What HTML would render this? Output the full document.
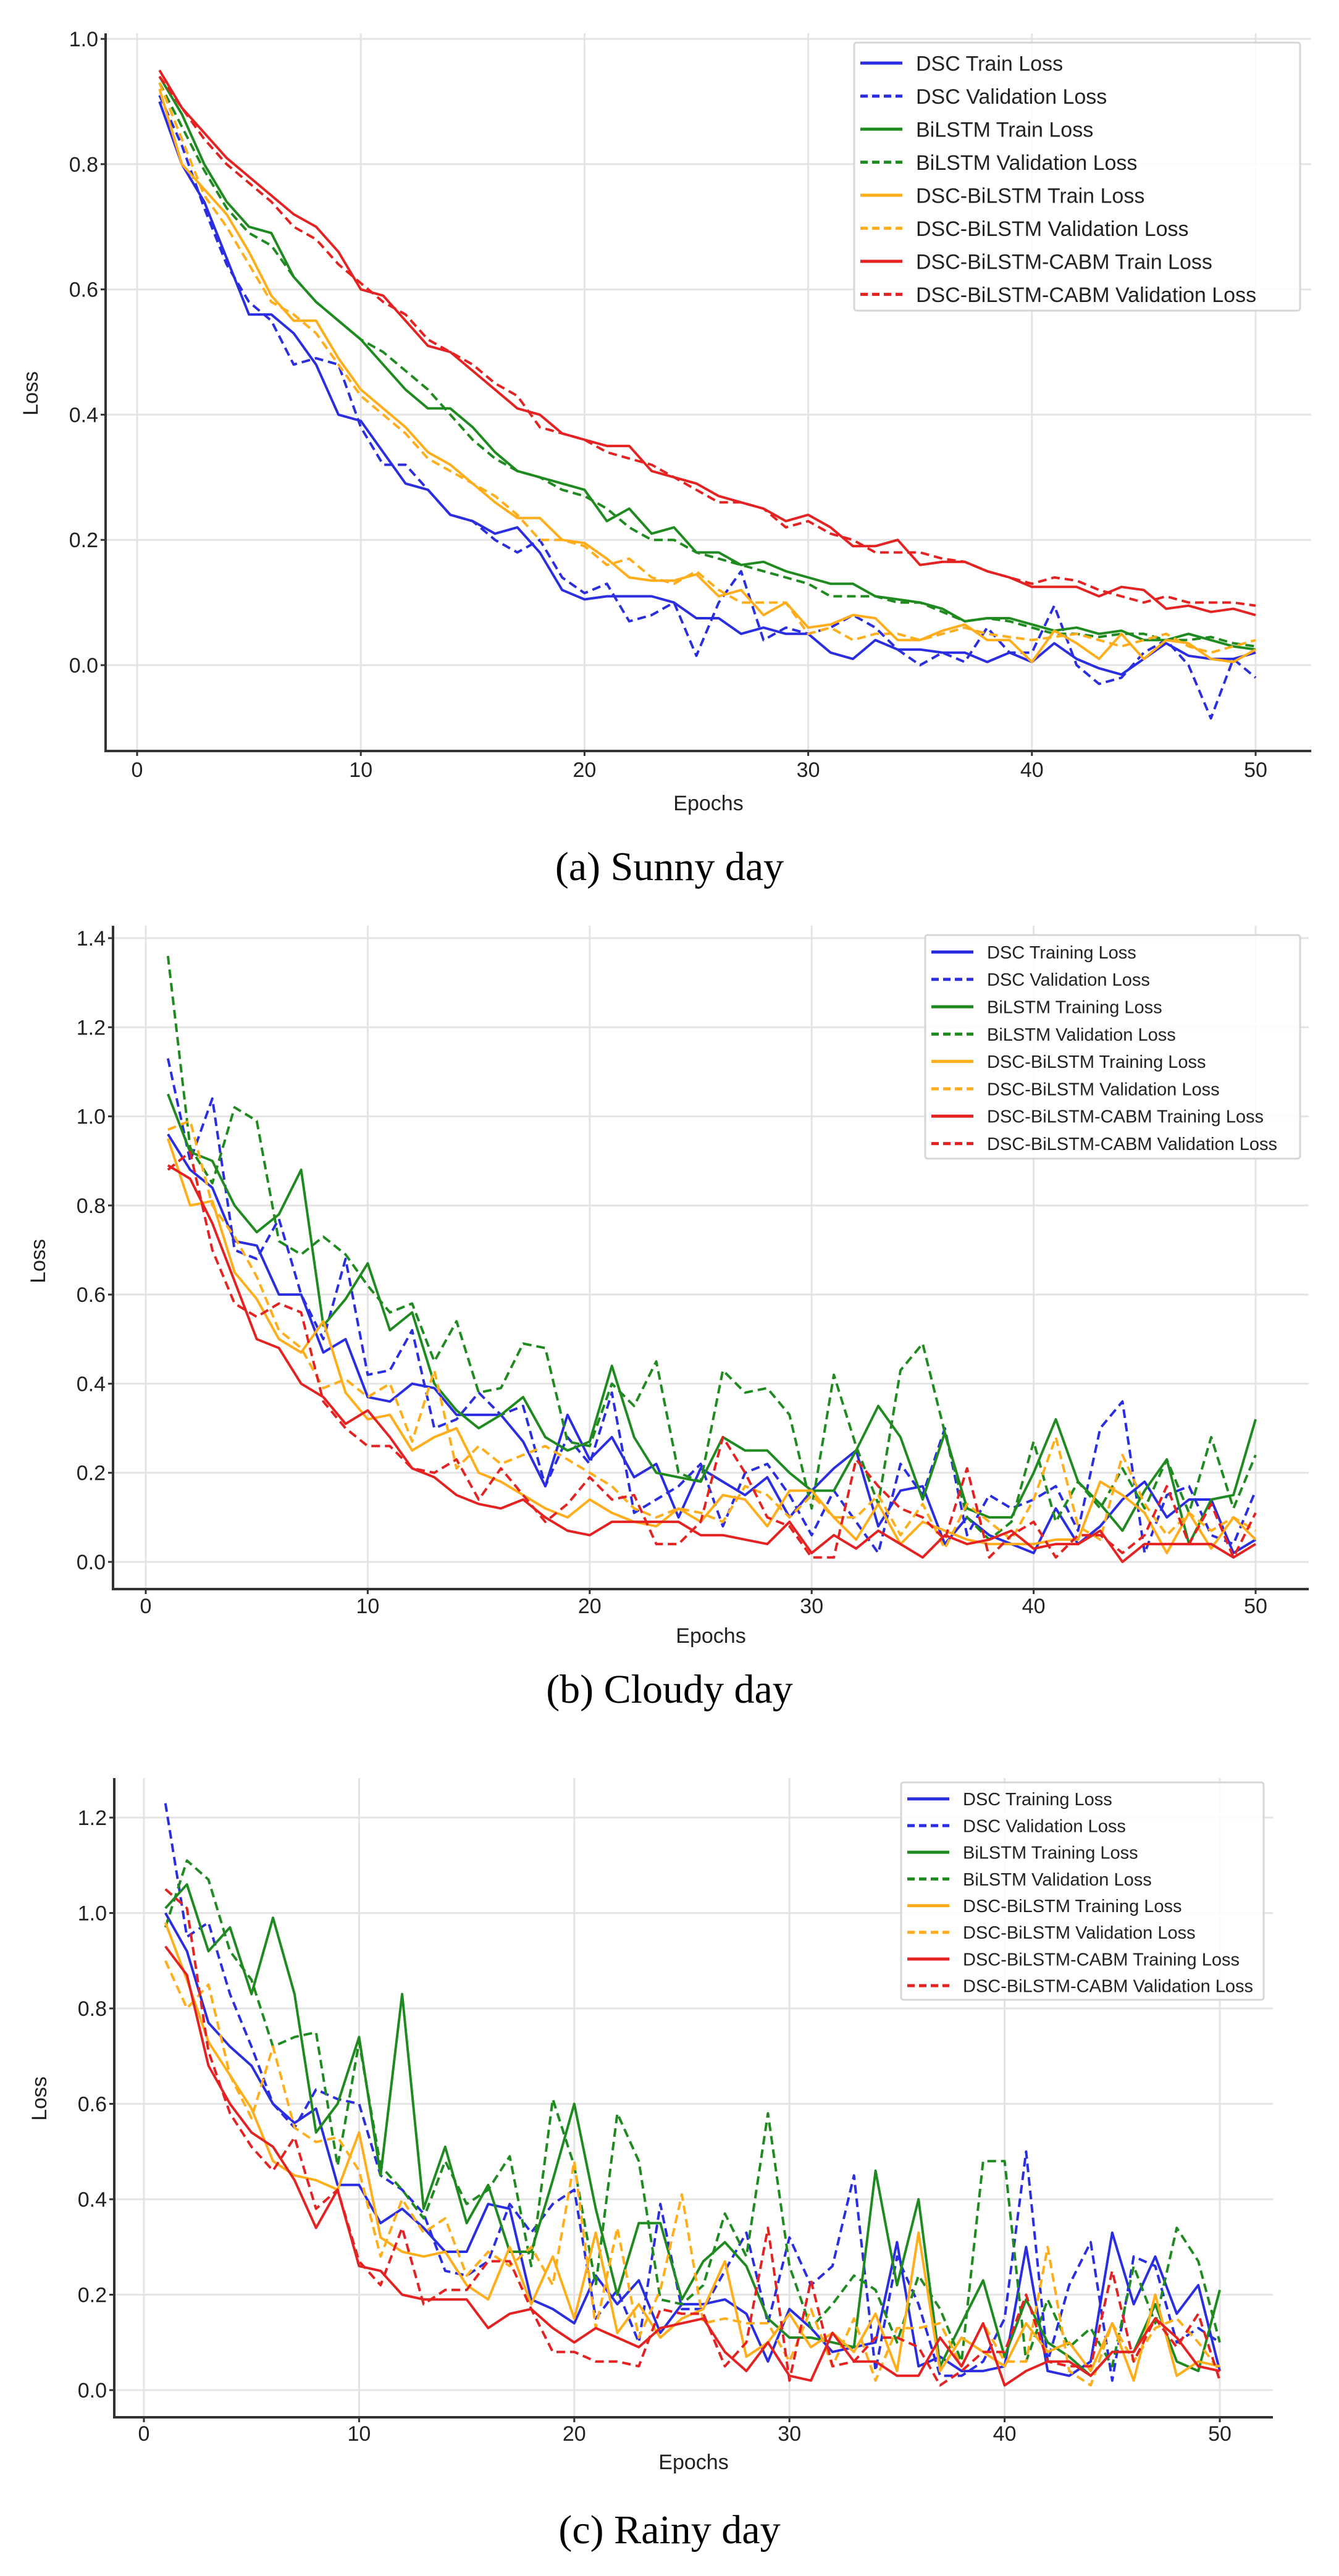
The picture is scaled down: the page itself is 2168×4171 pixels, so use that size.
<!DOCTYPE html>
<html><head><meta charset="utf-8"><style>
html,body{margin:0;padding:0;background:#fff;}
svg{display:block;}
text{font-family:"Liberation Sans",sans-serif;fill:#222;}
.cap{font-family:"Liberation Serif",serif;fill:#000;}
</style></head><body>
<svg id="fig" width="2168" height="4171" viewBox="0 0 2168 4171" xmlns="http://www.w3.org/2000/svg"></svg>
<script>
const epochs = Array.from({length:50},(_,i)=>i+1);
const seriesNames = ["DSC","BiLSTM","DSC-BiLSTM","DSC-BiLSTM-CABM"];
const seriesColors = ["#2a2ee0","#1f8a1f","#ffad1a","#e52222"];

// (a) Sunny day
const sunnyDscTrain=[0.90,0.80,0.74,0.65,0.56,0.56,0.53,0.48,0.40,0.39,0.34,0.29,0.28,0.24,0.23,0.21,0.22,0.18,0.12,0.105,0.11,0.11,0.11,0.10,0.075,0.075,0.05,0.06,0.05,0.05,0.02,0.01,0.04,0.025,0.025,0.02,0.02,0.005,0.02,0.005,0.035,0.01,-0.005,-0.015,0.01,0.035,0.015,0.01,0.01,0.02];
const sunnyDscVal=[0.91,0.83,0.73,0.64,0.58,0.55,0.48,0.49,0.48,0.38,0.32,0.32,0.28,0.24,0.23,0.20,0.18,0.20,0.14,0.115,0.13,0.07,0.08,0.10,0.015,0.10,0.15,0.04,0.06,0.05,0.06,0.08,0.06,0.025,0.00,0.02,0.005,0.06,0.02,0.02,0.095,0.00,-0.03,-0.02,0.02,0.04,0.00,-0.085,0.01,-0.02];
const sunnyBiTrain=[0.94,0.88,0.80,0.74,0.70,0.69,0.62,0.58,0.55,0.52,0.48,0.44,0.41,0.41,0.38,0.34,0.31,0.30,0.29,0.28,0.23,0.25,0.21,0.22,0.18,0.18,0.16,0.165,0.15,0.14,0.13,0.13,0.11,0.105,0.10,0.09,0.07,0.075,0.075,0.065,0.055,0.06,0.05,0.055,0.04,0.04,0.05,0.04,0.03,0.025];
const sunnyBiVal=[0.93,0.86,0.79,0.73,0.69,0.67,0.62,0.58,0.55,0.52,0.50,0.47,0.44,0.40,0.36,0.33,0.31,0.30,0.28,0.27,0.25,0.22,0.20,0.20,0.18,0.17,0.16,0.15,0.14,0.13,0.11,0.11,0.11,0.10,0.10,0.085,0.07,0.075,0.07,0.06,0.05,0.05,0.045,0.05,0.05,0.04,0.04,0.045,0.035,0.03];
const sunnyDbTrain=[0.92,0.80,0.76,0.72,0.66,0.59,0.55,0.55,0.49,0.44,0.41,0.38,0.34,0.32,0.29,0.26,0.235,0.235,0.20,0.195,0.17,0.14,0.135,0.135,0.145,0.11,0.12,0.08,0.10,0.06,0.065,0.08,0.075,0.04,0.04,0.055,0.065,0.04,0.04,0.005,0.055,0.035,0.01,0.05,0.01,0.04,0.035,0.01,0.005,0.025];
const sunnyDbVal=[0.93,0.84,0.75,0.70,0.64,0.58,0.56,0.53,0.48,0.43,0.40,0.37,0.33,0.31,0.29,0.27,0.24,0.20,0.20,0.19,0.16,0.17,0.14,0.13,0.15,0.12,0.10,0.10,0.10,0.05,0.06,0.04,0.05,0.05,0.04,0.05,0.06,0.05,0.045,0.04,0.045,0.05,0.04,0.03,0.04,0.05,0.03,0.02,0.03,0.04];
const sunnyCabmTrain=[0.95,0.89,0.85,0.81,0.78,0.75,0.72,0.70,0.66,0.60,0.59,0.55,0.51,0.50,0.47,0.44,0.41,0.40,0.37,0.36,0.35,0.35,0.31,0.30,0.29,0.27,0.26,0.25,0.23,0.24,0.22,0.19,0.19,0.20,0.16,0.165,0.165,0.15,0.14,0.125,0.125,0.125,0.11,0.125,0.12,0.09,0.095,0.085,0.09,0.08];
const sunnyCabmVal=[0.94,0.89,0.84,0.80,0.77,0.74,0.70,0.68,0.64,0.61,0.58,0.56,0.52,0.50,0.48,0.45,0.43,0.38,0.37,0.36,0.34,0.33,0.32,0.30,0.28,0.26,0.26,0.25,0.22,0.23,0.21,0.20,0.18,0.18,0.18,0.17,0.165,0.15,0.14,0.13,0.14,0.135,0.12,0.11,0.10,0.11,0.10,0.10,0.10,0.095];

// (b) Cloudy day
const cloudyDscTrain=[0.96,0.88,0.84,0.72,0.71,0.60,0.60,0.47,0.50,0.37,0.36,0.40,0.39,0.33,0.33,0.33,0.27,0.17,0.33,0.23,0.28,0.19,0.22,0.10,0.21,0.18,0.15,0.19,0.10,0.16,0.21,0.25,0.08,0.16,0.17,0.04,0.10,0.06,0.04,0.02,0.12,0.04,0.08,0.14,0.18,0.10,0.14,0.14,0.02,0.05];
const cloudyDscVal=[1.13,0.90,1.04,0.70,0.68,0.77,0.60,0.50,0.68,0.42,0.43,0.52,0.30,0.32,0.38,0.33,0.35,0.17,0.28,0.22,0.38,0.11,0.14,0.17,0.22,0.08,0.20,0.22,0.15,0.06,0.16,0.09,0.02,0.22,0.15,0.30,0.06,0.15,0.12,0.14,0.17,0.07,0.30,0.36,0.02,0.15,0.17,0.06,0.04,0.16];
const cloudyBiTrain=[1.05,0.92,0.90,0.80,0.74,0.78,0.88,0.53,0.59,0.67,0.52,0.56,0.40,0.34,0.30,0.33,0.37,0.28,0.25,0.27,0.44,0.28,0.20,0.19,0.18,0.28,0.25,0.25,0.20,0.16,0.16,0.25,0.35,0.28,0.14,0.29,0.12,0.10,0.10,0.20,0.32,0.18,0.13,0.07,0.16,0.23,0.04,0.14,0.15,0.32];
const cloudyBiVal=[1.36,0.93,0.85,1.02,0.99,0.72,0.69,0.73,0.69,0.62,0.56,0.58,0.45,0.54,0.38,0.39,0.49,0.48,0.27,0.26,0.40,0.35,0.45,0.20,0.18,0.43,0.38,0.39,0.33,0.12,0.42,0.26,0.13,0.43,0.49,0.29,0.10,0.05,0.09,0.27,0.09,0.18,0.12,0.21,0.12,0.23,0.11,0.28,0.12,0.24];
const cloudyDbTrain=[0.95,0.80,0.81,0.65,0.59,0.50,0.47,0.54,0.38,0.32,0.33,0.25,0.28,0.30,0.20,0.18,0.15,0.12,0.10,0.14,0.11,0.09,0.08,0.12,0.09,0.15,0.14,0.08,0.16,0.16,0.10,0.05,0.13,0.04,0.09,0.07,0.05,0.04,0.04,0.04,0.05,0.05,0.18,0.15,0.11,0.02,0.11,0.03,0.10,0.05];
const cloudyDbVal=[0.97,0.99,0.80,0.73,0.64,0.52,0.48,0.39,0.41,0.37,0.40,0.27,0.43,0.21,0.26,0.22,0.24,0.26,0.23,0.20,0.17,0.12,0.10,0.12,0.11,0.09,0.17,0.15,0.10,0.15,0.10,0.10,0.15,0.06,0.13,0.03,0.13,0.09,0.05,0.14,0.28,0.08,0.05,0.24,0.13,0.06,0.11,0.07,0.10,0.07];
const cloudyCabmTrain=[0.89,0.86,0.76,0.63,0.50,0.48,0.40,0.37,0.31,0.34,0.28,0.21,0.19,0.15,0.13,0.12,0.14,0.10,0.07,0.06,0.09,0.09,0.09,0.09,0.06,0.06,0.05,0.04,0.09,0.02,0.06,0.03,0.07,0.04,0.01,0.06,0.04,0.05,0.07,0.03,0.04,0.04,0.07,0.00,0.04,0.04,0.04,0.04,0.01,0.04];
const cloudyCabmVal=[0.88,0.92,0.70,0.58,0.55,0.58,0.56,0.36,0.30,0.26,0.26,0.21,0.20,0.23,0.14,0.21,0.15,0.09,0.13,0.19,0.14,0.15,0.04,0.04,0.09,0.28,0.20,0.10,0.08,0.01,0.01,0.23,0.17,0.12,0.10,0.05,0.21,0.01,0.06,0.09,0.01,0.06,0.06,0.02,0.06,0.17,0.04,0.13,0.01,0.11];

// (c) Rainy day
const rainyDscTrain=[1.00,0.92,0.77,0.72,0.68,0.60,0.56,0.59,0.43,0.43,0.35,0.38,0.34,0.29,0.29,0.39,0.38,0.19,0.17,0.14,0.24,0.18,0.23,0.12,0.18,0.18,0.19,0.16,0.06,0.17,0.13,0.08,0.09,0.10,0.31,0.05,0.07,0.04,0.04,0.05,0.30,0.04,0.03,0.06,0.33,0.18,0.28,0.16,0.22,0.04];
const rainyDscVal=[1.23,0.95,0.98,0.83,0.72,0.60,0.55,0.63,0.61,0.60,0.45,0.42,0.37,0.25,0.24,0.27,0.39,0.33,0.39,0.42,0.15,0.21,0.10,0.39,0.17,0.17,0.25,0.33,0.14,0.32,0.22,0.26,0.45,0.04,0.28,0.18,0.03,0.03,0.06,0.15,0.50,0.06,0.22,0.31,0.02,0.28,0.26,0.10,0.13,0.10];
const rainyBiTrain=[1.01,1.06,0.92,0.97,0.83,0.99,0.83,0.54,0.60,0.74,0.45,0.83,0.38,0.51,0.35,0.43,0.29,0.29,0.44,0.60,0.38,0.20,0.35,0.35,0.19,0.27,0.31,0.26,0.15,0.11,0.11,0.10,0.09,0.46,0.22,0.40,0.05,0.14,0.23,0.07,0.19,0.10,0.07,0.03,0.08,0.08,0.18,0.06,0.04,0.21];
const rainyBiVal=[0.97,1.11,1.07,0.92,0.86,0.72,0.74,0.75,0.47,0.73,0.47,0.42,0.36,0.48,0.39,0.42,0.49,0.26,0.61,0.47,0.22,0.58,0.48,0.19,0.18,0.22,0.37,0.28,0.58,0.26,0.13,0.18,0.24,0.21,0.10,0.24,0.17,0.06,0.48,0.48,0.06,0.19,0.09,0.13,0.05,0.26,0.14,0.34,0.27,0.10];
const rainyDbTrain=[0.98,0.86,0.73,0.66,0.59,0.48,0.45,0.44,0.42,0.54,0.32,0.29,0.28,0.29,0.22,0.19,0.30,0.18,0.28,0.15,0.33,0.12,0.18,0.11,0.15,0.17,0.27,0.07,0.10,0.16,0.09,0.12,0.08,0.16,0.04,0.33,0.04,0.11,0.08,0.05,0.14,0.08,0.10,0.04,0.14,0.02,0.20,0.03,0.06,0.05];
const rainyDbVal=[0.90,0.80,0.85,0.66,0.57,0.72,0.55,0.52,0.53,0.46,0.28,0.40,0.33,0.36,0.24,0.29,0.26,0.30,0.22,0.48,0.13,0.34,0.11,0.21,0.41,0.14,0.15,0.14,0.14,0.06,0.17,0.05,0.15,0.02,0.13,0.13,0.14,0.05,0.14,0.06,0.06,0.30,0.04,0.01,0.14,0.06,0.13,0.15,0.10,0.04];
const rainyCabmTrain=[0.93,0.87,0.68,0.60,0.54,0.51,0.44,0.34,0.42,0.26,0.25,0.20,0.19,0.19,0.19,0.13,0.16,0.17,0.13,0.10,0.13,0.11,0.09,0.13,0.14,0.15,0.08,0.04,0.10,0.03,0.02,0.12,0.06,0.06,0.03,0.03,0.11,0.05,0.14,0.01,0.04,0.06,0.06,0.03,0.08,0.08,0.15,0.11,0.05,0.04];
const rainyCabmVal=[1.05,1.01,0.71,0.58,0.51,0.46,0.53,0.38,0.42,0.27,0.22,0.34,0.18,0.21,0.21,0.27,0.27,0.17,0.08,0.08,0.06,0.06,0.05,0.17,0.16,0.16,0.05,0.10,0.34,0.02,0.23,0.05,0.06,0.11,0.11,0.09,0.01,0.04,0.08,0.08,0.20,0.06,0.05,0.05,0.25,0.06,0.15,0.09,0.16,0.02];

const xTicks=[0,10,20,30,40,50];
const yTicksA=[0.0,0.2,0.4,0.6,0.8,1.0];
const yTicksB=[0.0,0.2,0.4,0.6,0.8,1.0,1.2,1.4];
const yTicksC=[0.0,0.2,0.4,0.6,0.8,1.0,1.2];

const NS="http://www.w3.org/2000/svg";
const svg=document.getElementById('fig');
function el(tag,attrs,parent){const e=document.createElementNS(NS,tag);for(const k in attrs)e.setAttribute(k,attrs[k]);(parent||svg).appendChild(e);return e;}

const panels=[
 {key:"sunny",caption:"(a) Sunny day",capY:1425,spineL:171,spineR:2123,spineT:54,spineB:1216,x0:222,x50:2033,yv0:0,yp0:1077,yv1:1.0,yp1:63,yTicks:yTicksA,tickY:1258,labY:1312,lossY:637,
  leg:{x:1383,y:69,w:722,h:434,dy:53.5,fs:34},suffix:["Train Loss","Validation Loss"],
  data:[[sunnyDscTrain,sunnyDscVal],[sunnyBiTrain,sunnyBiVal],[sunnyDbTrain,sunnyDbVal],[sunnyCabmTrain,sunnyCabmVal]]},
 {key:"cloudy",caption:"(b) Cloudy day",capY:2757,spineL:183,spineR:2119,spineT:1499,spineB:2573,x0:236,x50:2033,yv0:0,yp0:2529,yv1:1.4,yp1:1519,yTicks:yTicksB,tickY:2612,labY:2660,lossY:2042,
  leg:{x:1498,y:1514,w:607,h:362,dy:44.3,fs:29},suffix:["Training Loss","Validation Loss"],
  data:[[cloudyDscTrain,cloudyDscVal],[cloudyBiTrain,cloudyBiVal],[cloudyDbTrain,cloudyDbVal],[cloudyCabmTrain,cloudyCabmVal]]},
 {key:"rainy",caption:"(c) Rainy day",capY:4118,spineL:185,spineR:2061,spineT:2879,spineB:3914,x0:233,x50:1975,yv0:0,yp0:3870,yv1:1.2,yp1:2943,yTicks:yTicksC,tickY:3952,labY:3998,lossY:3398,
  leg:{x:1459,y:2886,w:587,h:352,dy:43.2,fs:29},suffix:["Training Loss","Validation Loss"],
  data:[[rainyDscTrain,rainyDscVal],[rainyBiTrain,rainyBiVal],[rainyDbTrain,rainyDbVal],[rainyCabmTrain,rainyCabmVal]]}
];

panels.forEach(p=>{
 const g=el('g',{});
 
 
 const xs=v=>p.x0+(v-0)*(p.x50-p.x0)/50;
 const ys=v=>p.yp0+(v-p.yv0)*(p.yp1-p.yp0)/(p.yv1-p.yv0);
 xTicks.forEach(t=>{const l=el('line',{x1:xs(t),x2:xs(t),y1:p.spineT,y2:p.spineB,stroke:'#e4e4e4','stroke-width':3},g);
  });
 p.yTicks.forEach(t=>{const l=el('line',{x1:p.spineL,x2:p.spineR,y1:ys(t),y2:ys(t),stroke:'#e4e4e4','stroke-width':3},g);
  });
 p.data.forEach((pair,si)=>{
  pair.forEach((arr,vi)=>{
   const d=arr.map((v,i)=>(i?'L':'M')+xs(epochs[i]).toFixed(1)+' '+ys(v).toFixed(1)).join(' ');
   const attrs={d:d,fill:'none',stroke:seriesColors[si],'stroke-width':4,'stroke-linejoin':'round'};
   if(vi===1)attrs['stroke-dasharray']='14 8';
   const path=el('path',attrs,g);
   
   
  });
 });
 const sl=el('line',{x1:p.spineL,x2:p.spineL,y1:p.spineT,y2:p.spineB,stroke:'#333','stroke-width':4},g);
 
 const sb=el('line',{x1:p.spineL-2,x2:p.spineR,y1:p.spineB,y2:p.spineB,stroke:'#333','stroke-width':4},g);
 
 xTicks.forEach(t=>{
  el('line',{x1:xs(t),x2:xs(t),y1:p.spineB,y2:p.spineB+8,stroke:'#333','stroke-width':3},g);
  const tx=el('text',{x:xs(t),y:p.tickY,'font-size':34,'text-anchor':'middle'},g);tx.textContent=t;
  
 });
 p.yTicks.forEach(t=>{
  el('line',{x1:p.spineL-8,x2:p.spineL,y1:ys(t),y2:ys(t),stroke:'#333','stroke-width':3},g);
  const tx=el('text',{x:p.spineL-12,y:ys(t)+12,'font-size':34,'text-anchor':'end'},g);tx.textContent=t.toFixed(1);
  
 });
 const xl=el('text',{x:(p.spineL+p.spineR)/2,y:p.labY,'font-size':34,'text-anchor':'middle'},g);xl.textContent='Epochs';
 
 const yl=el('text',{x:0,y:0,'font-size':34,'text-anchor':'middle',transform:`translate(${p.spineL-110},${p.lossY}) rotate(-90)`},g);yl.textContent='Loss';
 
 const L=p.leg;
 const lg=el('g',{},g);
 
 el('rect',{x:L.x,y:L.y,width:L.w,height:L.h,fill:'#fff','fill-opacity':0.85,stroke:'#d6d6d6','stroke-width':3,rx:4},lg);
 let k=0;
 seriesNames.forEach((n,si)=>{[0,1].forEach(vi=>{
  const cy=L.y+L.dy*0.62+k*L.dy;
  const la={x1:L.x+10,x2:L.x+78,y1:cy,y2:cy,stroke:seriesColors[si],'stroke-width':5};
  if(vi)la['stroke-dasharray']='12 7';
  el('line',la,lg);
  const t=el('text',{x:L.x+100,y:cy+L.fs*0.36,'font-size':L.fs},lg);t.textContent=n+' '+p.suffix[vi];
  
  k++;
 });});
 const c=el('text',{x:1084,y:p.capY,'font-size':66,'text-anchor':'middle',class:'cap'});c.textContent=p.caption;
 
});
</script>
</body></html>
